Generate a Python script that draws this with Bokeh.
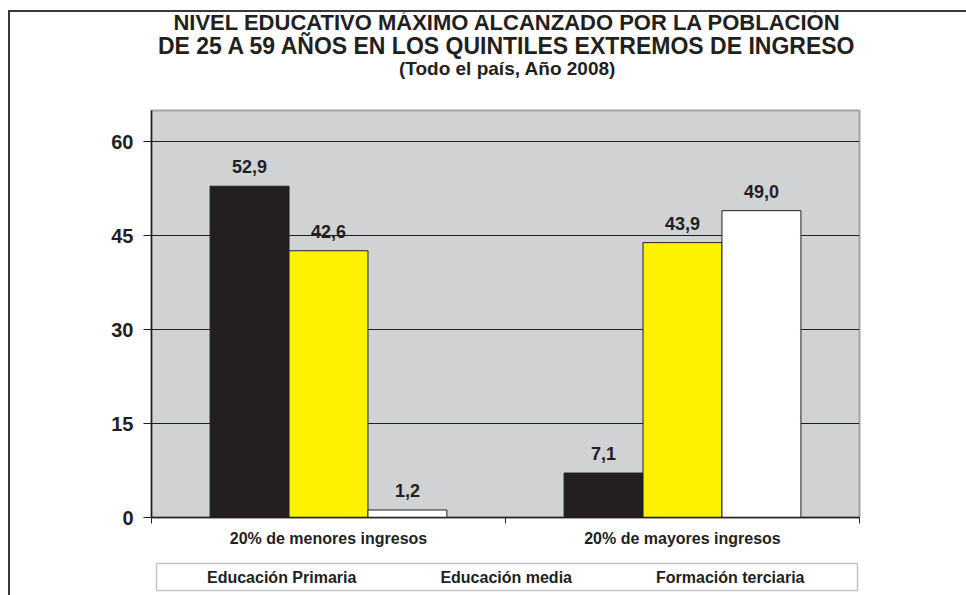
from bokeh.plotting import figure
from bokeh.layouts import column
from bokeh.models import (ColumnDataSource, Range1d, FixedTicker, LabelSet, Label,
                          BoxAnnotation, Legend, LegendItem)
from bokeh.embed import file_html
from bokeh.resources import INLINE
from bokeh.core.properties import value

# ---- data ----
categories = ["20% de menores ingresos", "20% de mayores ingresos"]
series = ["Educación Primaria", "Educación media", "Formación terciaria"]
primaria = [52.9, 7.1]
media = [42.6, 43.9]
terciaria = [1.2, 49.0]
y_ticks = [0, 15, 30, 45, 60]
title_lines = ["NIVEL EDUCATIVO MÁXIMO ALCANZADO POR LA POBLACIÓN",
               "DE 25 A 59 AÑOS EN LOS QUINTILES EXTREMOS DE INGRESO"]
subtitle = "(Todo el país, Año 2008)"

colors = ["#231f20", "#fff200", "#ffffff"]
FONT = "Liberation Sans"
TXT = "#231f20"
W = 956

# ---------- title strip (its frame is aligned with the chart's frame) ----------
t = figure(width=W, height=96, output_backend="svg", toolbar_location=None,
           x_axis_type=None, y_axis_type=None, min_border=0,
           x_range=Range1d(0, 1), y_range=Range1d(0, 1))
t.outline_line_color = None
t.background_fill_color = "#ffffff"
t.border_fill_color = "#ffffff"
for txt, y, fs in [(title_lines[0], 86, "22px"), (title_lines[1], 63, "23px"), (subtitle, 40, "19px")]:
    t.add_layout(Label(x=356, y=y, x_units="screen", y_units="screen", text=txt,
                       text_align="center", text_baseline="middle",
                       text_font=FONT, text_font_style="bold",
                       text_font_size=fs, text_color=TXT))

# ---------- main chart ----------
p = figure(width=W, height=442, output_backend="svg", toolbar_location=None,
           x_range=Range1d(0, len(categories)), y_range=Range1d(0, 65),
           min_border_left=141, min_border_right=107, min_border_top=2, min_border_bottom=33)
p.background_fill_color = "#d1d2d4"
p.border_fill_color = "#ffffff"
p.outline_line_color = "#a3a3a5"
p.outline_line_width = 2

centers = [i + 0.5 for i in range(len(categories))]
bw = 0.223
offsets = [-bw, 0.0, bw]
for vals, off, col in zip([primaria, media, terciaria], offsets, colors):
    src = ColumnDataSource(dict(x=[c + off for c in centers], top=vals,
                                lbl=[f"{v:.1f}".replace(".", ",") for v in vals]))
    p.vbar(x="x", top="top", width=bw, bottom=0, source=src,
           fill_color=col, line_color="#231f20", line_width=1)
    p.add_layout(LabelSet(x="x", y="top", text="lbl", source=src, y_offset=13,
                          text_align="center", text_baseline="alphabetic",
                          text_font=value(FONT), text_font_style="bold",
                          text_font_size="18px", text_color=TXT))

p.xgrid.visible = False
p.ygrid.ticker = FixedTicker(ticks=y_ticks[1:])
p.ygrid.grid_line_color = "#231f20"
p.ygrid.grid_line_width = 1

ya = p.yaxis[0]
ya.ticker = FixedTicker(ticks=y_ticks)
ya.axis_line_color = "#231f20"
ya.axis_line_width = 1.5
ya.major_tick_in = 0
ya.major_tick_out = 8
ya.major_tick_line_color = "#231f20"
ya.minor_tick_line_color = None
ya.major_label_standoff = 10
ya.major_label_text_font = FONT
ya.major_label_text_font_style = "bold"
ya.major_label_text_font_size = "20px"
ya.major_label_text_color = TXT

xa = p.xaxis[0]
xa.ticker = FixedTicker(ticks=centers, minor_ticks=list(range(len(categories) + 1)))
xa.major_label_overrides = {c: cat for c, cat in zip(centers, categories)}
xa.axis_line_color = "#231f20"
xa.axis_line_width = 1.5
xa.major_tick_in = 0
xa.major_tick_out = 0
xa.minor_tick_in = 0
xa.minor_tick_out = 6
xa.minor_tick_line_color = "#231f20"
xa.major_label_standoff = 6
xa.major_label_text_font = FONT
xa.major_label_text_font_style = "bold"
xa.major_label_text_font_size = "16px"
xa.major_label_text_color = TXT

# ---------- legend strip (legend swatches only, no marks drawn) ----------
q = figure(width=W, height=45, output_backend="svg", toolbar_location=None,
           x_axis_type=None, y_axis_type=None, min_border=0,
           x_range=Range1d(0, 1), y_range=Range1d(0, 1))
q.outline_line_color = None
q.background_fill_color = "#ffffff"
q.border_fill_color = "#ffffff"
leg_renderers = []
for col in colors:
    r = q.vbar(x=[], top=[], width=0.1, bottom=0,
               fill_color=col, line_color="#231f20", line_width=1)
    leg_renderers.append(r)
q.add_layout(BoxAnnotation(left=5, right=706, top=32, bottom=5,
                           left_units="screen", right_units="screen",
                           top_units="screen", bottom_units="screen",
                           fill_alpha=0, line_color="#3a3a3a", line_width=1.5))
legend = Legend(items=[LegendItem(label=s, renderers=[r]) for s, r in zip(series, leg_renderers)],
                orientation="horizontal", location=(40, 8),
                glyph_width=13, glyph_height=13, label_standoff=3, spacing=68,
                padding=0, margin=0, label_height=19,
                border_line_color=None, background_fill_alpha=0,
                label_text_font=FONT, label_text_font_style="bold",
                label_text_font_size="16px", label_text_color=TXT)
q.add_layout(legend, "center")

layout = column(t, p, q, spacing=0)
# outer chart frame (left and top edges of the chart box)
layout.styles = {"margin-left": "8px", "margin-top": "10px",
                 "border-left": "2px solid #3a3a3a", "border-top": "2px solid #3a3a3a"}

open("out.html", "w").write(file_html(layout, INLINE))
